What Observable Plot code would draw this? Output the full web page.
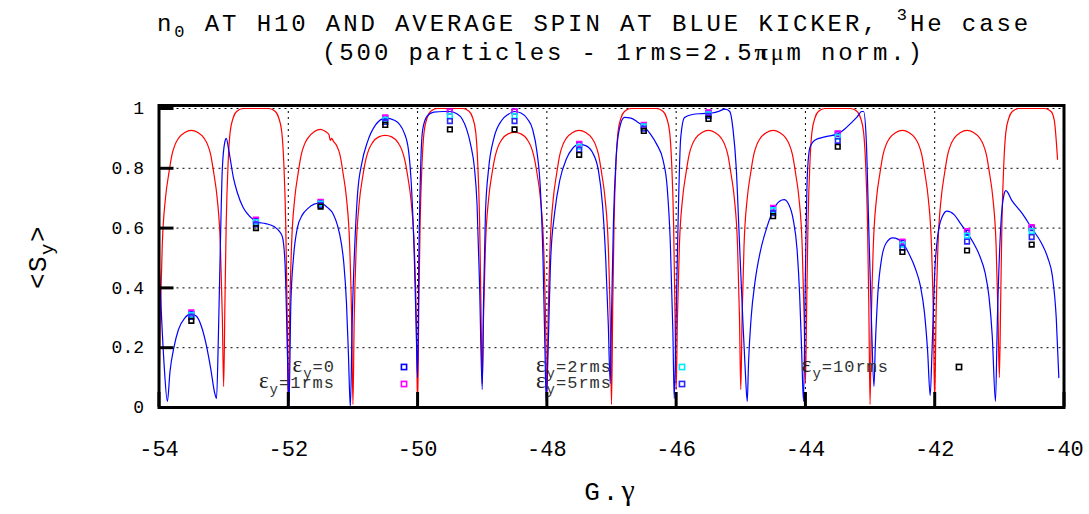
<!DOCTYPE html>
<html><head><meta charset="utf-8">
<script src="https://cdn.jsdelivr.net/npm/d3@7"></script>
<script src="https://cdn.jsdelivr.net/npm/@observablehq/plot@0.6"></script>
<style>body{margin:0;background:#fff} svg{display:block}</style>
</head><body><div id="chart"></div>
<script>
// Red curve (n0 at H10)
const redG = [
-54,-53.98,-53.95,-53.9,-53.85,-53.8,-53.75,-53.7,-53.6,-53.5,-53.4,-53.3,-53.25,-53.2,-53.15,-53.1,-53.05,-53.02,
-53,-52.98,-52.96,-52.93,-52.9,-52.85,-52.8,-52.7,-52.5,-52.3,-52.2,-52.15,-52.1,-52.07,-52.04,-52.02,
-52,-51.98,-51.95,-51.9,-51.85,-51.8,-51.75,-51.7,-51.6,-51.5,-51.42,-51.37,-51.35,-51.33,-51.3,-51.25,-51.2,-51.15,-51.1,-51.05,-51.02,
-51,-50.98,-50.95,-50.9,-50.85,-50.8,-50.75,-50.7,-50.6,-50.5,-50.4,-50.3,-50.25,-50.2,-50.15,-50.1,-50.05,-50.02,
-50,-49.98,-49.96,-49.93,-49.9,-49.85,-49.8,-49.7,-49.5,-49.3,-49.2,-49.15,-49.1,-49.07,-49.04,-49.02,
-49,-48.98,-48.95,-48.9,-48.85,-48.8,-48.75,-48.7,-48.6,-48.5,-48.4,-48.3,-48.25,-48.2,-48.15,-48.1,-48.05,-48.02,
-48,-47.98,-47.95,-47.9,-47.85,-47.8,-47.75,-47.7,-47.6,-47.5,-47.4,-47.3,-47.25,-47.2,-47.15,-47.1,-47.05,-47.02,
-47,-46.98,-46.96,-46.93,-46.9,-46.85,-46.8,-46.7,-46.5,-46.3,-46.2,-46.15,-46.1,-46.07,-46.04,-46.02,
-46,-45.98,-45.95,-45.9,-45.85,-45.8,-45.75,-45.7,-45.6,-45.5,-45.4,-45.3,-45.25,-45.2,-45.15,-45.1,-45.05,-45.02,
-45,-44.98,-44.95,-44.9,-44.85,-44.8,-44.75,-44.7,-44.6,-44.5,-44.4,-44.3,-44.25,-44.2,-44.15,-44.1,-44.05,-44.02,
-44,-43.98,-43.96,-43.93,-43.9,-43.85,-43.8,-43.7,-43.5,-43.3,-43.2,-43.15,-43.1,-43.07,-43.04,-43.02,
-43,-42.98,-42.95,-42.9,-42.85,-42.8,-42.75,-42.7,-42.6,-42.5,-42.4,-42.3,-42.25,-42.2,-42.15,-42.1,-42.05,-42.02,
-42,-41.98,-41.95,-41.9,-41.85,-41.8,-41.75,-41.7,-41.6,-41.5,-41.4,-41.3,-41.25,-41.2,-41.15,-41.1,-41.05,-41.02,
-41,-40.98,-40.96,-40.93,-40.9,-40.85,-40.8,-40.7,-40.5,-40.3,-40.2,-40.15,-40.1
];
const redS = [
.05,.3,.54,.7,.78,.845,.88,.9,.92,.927,.92,.9,.88,.845,.78,.7,.54,.3,
.07,.35,.62,.82,.92,.97,.99,1,1,1,.99,.97,.92,.82,.62,.35,
0,.3,.54,.7,.78,.845,.88,.9,.922,.93,.922,.912,.893,.9,.89,.875,.845,.78,.7,.54,.3,
.01,.3,.53,.69,.77,.83,.865,.885,.905,.91,.905,.885,.865,.83,.77,.69,.53,.3,
0,.35,.62,.82,.92,.97,.99,1,1,1,.99,.97,.92,.82,.62,.35,
.08,.3,.54,.7,.78,.84,.875,.895,.915,.92,.915,.895,.875,.84,.78,.7,.54,.3,
.03,.3,.54,.7,.78,.845,.88,.9,.92,.927,.92,.9,.88,.845,.78,.7,.54,.3,
.01,.35,.62,.82,.92,.97,.99,1,1,1,.99,.97,.92,.82,.62,.35,
.06,.3,.54,.7,.78,.845,.88,.9,.92,.927,.92,.9,.88,.845,.78,.7,.54,.3,
.06,.3,.54,.7,.78,.845,.88,.9,.92,.927,.92,.9,.88,.845,.78,.7,.54,.3,
.08,.35,.62,.82,.92,.97,.99,1,1,1,.99,.97,.92,.82,.62,.35,
.01,.3,.54,.7,.78,.845,.88,.9,.92,.927,.92,.9,.88,.845,.78,.7,.54,.3,
.02,.3,.54,.7,.78,.845,.88,.9,.92,.927,.92,.9,.88,.845,.78,.7,.54,.3,
.1,.35,.62,.82,.92,.97,.99,1,1,1,.99,.96,.83
];
// Blue curve (average spin at blue kicker)
const blueG = [
-54,-53.96,-53.92,-53.87,-53.83,-53.77,-53.7,-53.6,-53.5,-53.42,-53.35,-53.28,-53.2,-53.14,-53.11,
-53.08,-53.05,-53.02,-52.98,-52.96,-52.92,-52.85,-52.79,-52.7,-52.64,-52.55,-52.48,-52.35,-52.22,-52.14,-52.09,-52.05,-52.02,-51.99,
-51.96,-51.92,-51.86,-51.78,-51.7,-51.6,-51.5,-51.4,-51.3,-51.24,-51.18,-51.14,-51.1,-51.07,-51.04,
-51.01,-50.97,-50.93,-50.86,-50.78,-50.65,-50.5,-50.35,-50.21,-50.14,-50.09,-50.05,-50.02,-50,
-49.98,-49.95,-49.92,-49.85,-49.75,-49.6,-49.5,-49.4,-49.31,-49.24,-49.18,-49.12,-49.08,-49.04,-49,
-48.98,-48.95,-48.9,-48.82,-48.7,-48.6,-48.5,-48.4,-48.3,-48.22,-48.15,-48.1,-48.06,-48.03,-48.01,
-47.98,-47.94,-47.88,-47.8,-47.7,-47.6,-47.5,-47.4,-47.3,-47.2,-47.14,-47.09,-47.05,-47.02,
-47,-46.97,-46.93,-46.88,-46.8,-46.7,-46.6,-46.5,-46.4,-46.3,-46.2,-46.14,-46.09,-46.05,-46.03,
-46,-45.97,-45.93,-45.87,-45.75,-45.6,-45.45,-45.35,-45.24,-45.17,-45.12,-45.07,-45.02,-44.97,-44.93,-44.9,
-44.88,-44.84,-44.78,-44.7,-44.6,-44.5,-44.4,-44.33,-44.26,-44.19,-44.13,-44.09,-44.06,-44.03,
-44,-43.97,-43.93,-43.85,-43.7,-43.5,-43.4,-43.3,-43.2,-43.13,-43.1,-43.06,-43.02,-42.98,-42.94,
-42.92,-42.88,-42.82,-42.75,-42.65,-42.57,-42.5,-42.4,-42.3,-42.22,-42.16,-42.11,-42.07,
-42.04,-42,-41.95,-41.88,-41.81,-41.7,-41.6,-41.5,-41.4,-41.3,-41.22,-41.16,-41.11,-41.06,
-41.03,-40.98,-40.93,-40.9,-40.8,-40.65,-40.5,-40.35,-40.25,-40.18,-40.12,-40.08
];
const blueS = [
.5,.3,.14,.02,.12,.2,.26,.3,.313,.305,.275,.22,.13,.05,.03,
.25,.55,.8,.89,.9,.86,.77,.72,.67,.65,.63,.62,.615,.605,.59,.57,.48,.25,0,
.35,.5,.6,.645,.665,.68,.684,.67,.645,.61,.55,.48,.35,.18,0,
.3,.55,.71,.82,.885,.945,.968,.96,.92,.86,.72,.5,.25,.1,
.5,.82,.93,.975,.988,.99,.99,.983,.965,.93,.88,.8,.68,.4,.06,
.35,.65,.8,.9,.96,.98,.99,.985,.965,.93,.85,.73,.5,.2,.02,
.2,.5,.65,.76,.83,.867,.88,.876,.855,.79,.68,.5,.28,.08,
.3,.62,.83,.93,.97,.968,.955,.94,.915,.88,.825,.74,.55,.25,.03,
.3,.62,.9,.97,.98,.983,.985,.99,.998,.99,.93,.8,.55,.3,.12,.02,
.15,.3,.42,.52,.6,.66,.69,.695,.68,.63,.53,.38,.2,.02,
.45,.78,.87,.895,.905,.915,.93,.95,.972,.99,.99,.9,.6,.3,.07,
.2,.38,.5,.55,.567,.563,.552,.515,.465,.405,.32,.19,.04,
.2,.45,.58,.64,.657,.645,.615,.585,.55,.505,.45,.37,.24,.02,
.3,.6,.71,.725,.69,.65,.6,.55,.5,.44,.3,.1
];
// Simulated points at half-integer G.gamma
const markG = [-53.5,-52.5,-51.5,-50.5,-49.5,-48.5,-47.5,-46.5,-45.5,-44.5,-43.5,-42.5,-41.5,-40.5];
const eps0  = [.313,.625,.685,.968,.99,.99,.88,.943,.985,.665,.915,.552,.585,.6];
const eps1  = [.318,.628,.688,.97,.99,.99,.882,.945,.987,.668,.917,.555,.59,.603];
const eps2  = [.31,.62,.682,.962,.975,.975,.872,.94,.98,.66,.905,.545,.575,.59];
const eps5  = [.303,.612,.677,.955,.958,.958,.862,.933,.975,.65,.892,.535,.555,.57];
const eps10 = [.29,.6,.672,.945,.93,.93,.845,.925,.965,.64,.872,.52,.525,.545];
const seriesNames = ["0","1rms","2rms","5rms","10rms"];
const seriesColors = ["#0000ff","#ff00ff","#00e8ff","#2a2aff","#000000"];
const xTicks = [-54,-52,-50,-48,-46,-44,-42,-40];
const yTicks = [0,0.2,0.4,0.6,0.8,1];

const red = redG.map((g,i)=>({g, s: redS[i]}));
const blue = blueG.map((g,i)=>({g, s: blueS[i]}));
const allEps = [eps0,eps1,eps2,eps5,eps10];
const marks = [];
allEps.forEach((arr,k)=>arr.forEach((s,i)=>marks.push({g: markG[i], s, series: seriesNames[k]})));

const chart = Plot.plot({
  width: 1089, height: 514,
  marginLeft: 158.5, marginRight: 25.5, marginTop: 105, marginBottom: 107,
  style: {fontFamily: "Liberation Mono", background: "#fff", color: "#000", overflow: "visible"},
  x: {domain: [-54,-40]},
  y: {domain: [0,1.01]},
  color: {domain: seriesNames, range: seriesColors},
  marks: [
    Plot.gridX(xTicks.slice(1,-1), {stroke: "#000", strokeOpacity: 1, strokeDasharray: "2,4", strokeWidth: 1}),
    Plot.gridY(yTicks.slice(1), {stroke: "#000", strokeOpacity: 1, strokeDasharray: "2,4", strokeWidth: 1}),
    Plot.line(red, {x: "g", y: "s", stroke: "#ff0000", strokeWidth: 1.2, curve: "monotone-x"}),
    Plot.line(blue, {x: "g", y: "s", stroke: "#0000ff", strokeWidth: 1.2, curve: "monotone-x"}),
    Plot.dot(marks, {x: "g", y: "s", stroke: "series", symbol: "square", r: 2.6, strokeWidth: 1.6, fill: "none"}),
    Plot.frame({stroke: "#000", strokeWidth: 3}),
    Plot.axisX({ticks: xTicks, tickSize: -15, strokeWidth: 3, tickPadding: 48, tickFormat: d => String(d), fontSize: 22, label: null}),
    Plot.axisY({ticks: yTicks, tickSize: -15, strokeWidth: 3, tickPadding: 30, tickFormat: d => String(d), fontSize: 18, label: null})
  ]
});
document.getElementById("chart").appendChild(chart);

const svg = d3.select(chart);
// Title line 1
const t1 = svg.append("text").attr("x", 157).attr("y", 31).attr("text-anchor", "start").attr("font-family", "Liberation Mono").attr("font-size", 24).attr("letter-spacing", 2.9).attr("fill", "#000");
t1.append("tspan").text("n");
t1.append("tspan").attr("dy", 6).attr("font-size", 17).text("0");
t1.append("tspan").attr("dy", -6).text(" AT H10 AND AVERAGE SPIN AT BLUE KICKER, ");
t1.append("tspan").attr("dy", -11).attr("font-size", 17).text("3");
t1.append("tspan").attr("dy", 11).text("He case");
// Title line 2
const t2 = svg.append("text").attr("x", 322).attr("y", 60).attr("text-anchor", "start").attr("font-family", "Liberation Mono").attr("font-size", 24).attr("letter-spacing", 2.9).attr("fill", "#000");
t2.append("tspan").text("(500 particles - 1rms=2.5");
t2.append("tspan").attr("font-family", "Liberation Serif").attr("font-weight", "bold").text("π");
t2.append("tspan").attr("font-family", "Liberation Serif").text("μ");
t2.append("tspan").text("m norm.)");
// Y label
const yl = svg.append("text").attr("transform", "translate(46,257) rotate(-90)").attr("text-anchor", "middle").attr("font-family", "Liberation Mono").attr("font-size", 26).attr("letter-spacing", 1.5).attr("fill", "#000");
yl.append("tspan").text("<S");
yl.append("tspan").attr("dy", 7).attr("font-size", 19).text("y");
yl.append("tspan").attr("dy", -7).text(">");
// X label
const xl = svg.append("text").attr("x", 611).attr("y", 500).attr("text-anchor", "middle").attr("font-family", "Liberation Mono").attr("font-size", 26).attr("letter-spacing", 3).attr("fill", "#000");
xl.append("tspan").text("G.");
xl.append("tspan").attr("font-family", "Liberation Serif").attr("font-size", 30).text("γ");
// Legend
const legendPos = [[335,372,404,367],[335,388,404,384],[612,372,682,367],[612,388,682,384],[889,372,959,367]];
seriesNames.forEach((name,k)=>{
  const [tx,ty,sx,sy] = legendPos[k];
  const t = svg.append("text").attr("x", tx).attr("y", ty).attr("text-anchor", "end").attr("font-family", "Liberation Mono").attr("font-size", 17).attr("letter-spacing", 1).attr("fill", "#333");
  t.append("tspan").attr("font-family", "Liberation Serif").attr("font-size", 23).attr("fill", "#222").text("ε");
  t.append("tspan").attr("dy", 6).attr("font-size", 14).text("y");
  t.append("tspan").attr("dy", -6).text("=" + name);
  svg.append("rect").attr("x", sx-2.6).attr("y", sy-2.6).attr("width", 5.2).attr("height", 5.2).attr("fill", "none").attr("stroke", seriesColors[k]).attr("stroke-width", 1.6);
});
</script>
</body></html>
